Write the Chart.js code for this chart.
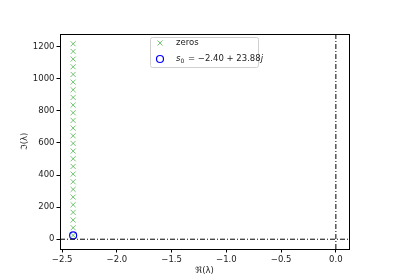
<!DOCTYPE html>
<html>
<head>
<meta charset="utf-8">
<script src="https://cdn.jsdelivr.net/npm/chart.js@4"></script>
<style>
  html, body { margin: 0; padding: 0; background: #fff; }
  #wrap { width: 400px; height: 280px; }
</style>
</head>
<body>
<div id="wrap"><canvas id="chart" width="400" height="280"></canvas></div>
<script>
// zeros of the characteristic function (real part, imaginary part)
const zeroRe = -2.40;
const zeroIm = [23.88, 71.64, 119.40, 167.16, 214.92, 262.68, 310.44, 358.20, 405.96,
    453.72, 501.48, 549.24, 597.00, 644.76, 692.52, 740.28, 788.04, 835.80, 883.56,
    931.32, 979.08, 1026.84, 1074.60, 1122.36, 1170.12, 1217.88];
// starting point s0
const s0 = { re: -2.40, im: 23.88 };

const xTicks = [-2.5, -2.0, -1.5, -1.0, -0.5, 0.0];
const yTicks = [0, 200, 400, 600, 800, 1000, 1200];
const xLimits = [-2.52, 0.12];
const yLimits = [-60.9, 1278.8];

const FONT = 'DejaVu Sans';
const minus = v => String(v).replace('-', '\u2212');

// frame around the axes plus matplotlib-style legend
const framePlugin = {
    id: 'frame',
    afterDraw(chart) {
        const { ctx, chartArea: a } = chart;
        ctx.save();
        ctx.strokeStyle = '#000';
        ctx.lineWidth = 1;
        ctx.strokeRect(Math.round(a.left) + 0.5, Math.round(a.top) + 0.5,
            Math.round(a.right - a.left), Math.round(a.bottom - a.top));

        // legend box
        const bx = 150.5, by = 37.5, bw = 108, bh = 30;
        ctx.fillStyle = 'rgba(255,255,255,0.8)';
        ctx.strokeStyle = '#d0d0d0';
        ctx.beginPath();
        ctx.roundRect(bx, by, bw, bh, 2);
        ctx.fill();
        ctx.stroke();

        // zeros entry
        ctx.strokeStyle = 'rgba(0,150,0,0.55)';
        ctx.beginPath();
        ctx.moveTo(157.5, 40.5); ctx.lineTo(162.5, 45.5);
        ctx.moveTo(162.5, 40.5); ctx.lineTo(157.5, 45.5);
        ctx.stroke();
        ctx.fillStyle = '#222';
        ctx.textBaseline = 'middle';
        ctx.font = `8.5px "${FONT}"`;
        ctx.fillText('zeros', 176, 43);

        // s0 entry
        ctx.strokeStyle = '#0000ff';
        ctx.lineWidth = 1.2;
        ctx.beginPath();
        ctx.arc(160, 59, 3.5, 0, Math.PI * 2);
        ctx.stroke();
        let x = 176;
        ctx.font = `italic 8.5px "${FONT}"`;
        ctx.fillText('s', x, 59);
        x += ctx.measureText('s').width;
        ctx.font = `6px "${FONT}"`;
        ctx.fillText('0', x, 61.5);
        x += ctx.measureText('0').width + 1;
        ctx.font = `8.5px "${FONT}"`;
        const mid = ' = \u2212' + Math.abs(s0.re).toFixed(2) + ' + ' + s0.im.toFixed(2);
        ctx.fillText(mid, x, 59);
        x += ctx.measureText(mid).width;
        ctx.font = `italic 8.5px "${FONT}"`;
        ctx.fillText('j', x, 59);
        ctx.restore();
    }
};

new Chart(document.getElementById('chart').getContext('2d'), {
    type: 'scatter',
    data: {
        datasets: [
            {
                label: 'axv',
                data: [{ x: 0, y: yLimits[0] }, { x: 0, y: yLimits[1] }],
                showLine: true,
                borderColor: '#000',
                borderWidth: 1,
                borderDash: [5, 2, 1, 2],
                pointRadius: 0
            },
            {
                label: 'axh',
                data: [{ x: xLimits[0], y: 0 }, { x: xLimits[1], y: 0 }],
                showLine: true,
                borderColor: '#000',
                borderWidth: 1,
                borderDash: [5, 2, 1, 2],
                pointRadius: 0
            },
            {
                label: 'zeros',
                data: zeroIm.map(v => ({ x: zeroRe, y: v })),
                pointStyle: 'crossRot',
                pointRadius: 3.6,
                borderColor: 'rgba(0,150,0,0.55)',
                borderWidth: 1,
                backgroundColor: 'rgba(0,150,0,0.55)'
            },
            {
                label: 's0',
                data: [{ x: s0.re, y: s0.im }],
                pointStyle: 'circle',
                pointRadius: 3.5,
                borderColor: '#0000ff',
                borderWidth: 1.2,
                backgroundColor: 'rgba(0,0,0,0)'
            }
        ]
    },
    options: {
        responsive: false,
        animation: false,
        layout: { padding: { left: 0, right: 51, top: 34, bottom: 0 } },
        plugins: {
            legend: { display: false },
            tooltip: { enabled: false }
        },
        scales: {
            x: {
                type: 'linear',
                min: xLimits[0],
                max: xLimits[1],
                afterBuildTicks: s => { s.ticks = xTicks.map(v => ({ value: v })); },
                afterFit: s => { s.height = 31; },
                border: { display: false },
                grid: { drawOnChartArea: false, tickLength: 3.5, color: '#000', tickWidth: 1 },
                ticks: {
                    color: '#222',
                    padding: 2,
                    maxRotation: 0,
                    font: { family: FONT, size: 8.5 },
                    callback: v => minus(v.toFixed(1))
                },
                title: {
                    display: true,
                    text: '\u211C(\u03BB)',
                    color: '#222',
                    padding: { top: 1, bottom: 4 },
                    font: { family: FONT, size: 8.5 }
                }
            },
            y: {
                type: 'linear',
                min: yLimits[0],
                max: yLimits[1],
                afterBuildTicks: s => { s.ticks = yTicks.map(v => ({ value: v })); },
                afterFit: s => { s.width = 60; },
                border: { display: false },
                grid: { drawOnChartArea: false, tickLength: 3.5, color: '#000', tickWidth: 1 },
                ticks: {
                    color: '#222',
                    padding: 2,
                    font: { family: FONT, size: 8.5 },
                    callback: v => minus(v)
                },
                title: {
                    display: true,
                    text: '\u2111(\u03BB)',
                    color: '#222',
                    padding: { top: 20, bottom: 4 },
                    font: { family: FONT, size: 8.5 }
                }
            }
        }
    },
    plugins: [framePlugin]
});
</script>
</body>
</html>
